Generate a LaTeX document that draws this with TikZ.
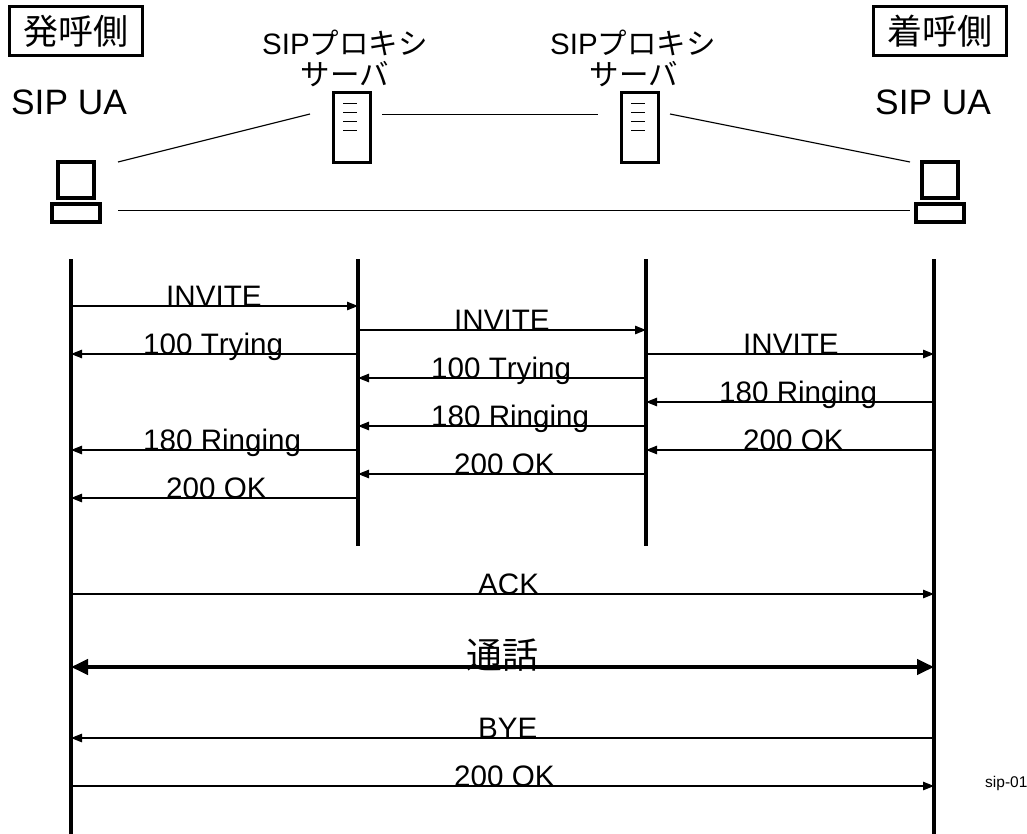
\documentclass[tikz,border=0pt]{standalone}
\usepackage{fontspec}
\setmainfont[Kerning=Off]{Liberation Sans}
\newfontfamily\cjk{Noto Sans CJK JP}
\usetikzlibrary{arrows.meta}
\tikzset{
  lifeline/.style={line width=4pt},
  msgline/.style={line width=1.1pt,-{Triangle[length=11pt,width=8.5pt]}},
  talkline/.style={line width=4pt,{Triangle[length=17pt,width=15pt]}-{Triangle[length=17pt,width=15pt]}},
  netline/.style={line width=1.1pt},
  msglabel/.style={anchor=base west,inner sep=0pt,font=\fontsize{29.6}{29.6}\selectfont},
  uatext/.style={anchor=base west,inner sep=0pt,font=\fontsize{35.3}{35.3}\selectfont},
  proxytext/.style={anchor=base,inner sep=0pt,font=\fontsize{29.5}{29.5}\selectfont},
  sidebox/.style={draw,line width=3.6pt,minimum width=133pt,minimum height=49pt,inner sep=0pt,font=\cjk\fontsize{35}{35}\selectfont},
  iconbox/.style={draw,line width=3.6pt,inner sep=0pt},
  rackline/.style={line width=1pt},
}
% \msg{name}{from}{to}{y}{text x}{text}
\newcommand{\msg}[6]{%
  \coordinate (#1s) at (#2 |- 0,#4);
  \coordinate (#1e) at (#3 |- 0,#4);
  \draw[msgline] (#1s) -- (#1e);
  \node[msglabel] (#1t) at (#5,#4) {#6};
}
\newcommand{\pcicon}[2]{%
  \node[iconbox,minimum width=36pt,minimum height=36pt] (#1m) at (#2,180) {};
  \node[iconbox,minimum width=48pt,minimum height=18pt] (#1k) at (#2,213) {};
}
\newcommand{\rack}[2]{%
  \node[iconbox,minimum width=37pt,minimum height=70pt] (#1) at (#2,127.5) {};
  \foreach \yy/\nn in {104/a,113/b,122/c,131/d}{
    \coordinate (#1\nn l) at (#2-9,\yy);
    \coordinate (#1\nn r) at (#2+5,\yy);
    \draw[rackline] (#1\nn l) -- (#1\nn r);
  }
}
\begin{document}
\begin{tikzpicture}[x=1pt,y=-1pt]
\useasboundingbox (0,0) rectangle (1027,834);
% headers
\node[sidebox] (caller) at (76,31) {発呼側};
\node[sidebox] (callee) at (940,31) {着呼側};
\node[uatext] (ua1) at (11,115) {SIP UA};
\node[uatext] (ua2) at (875,115) {SIP UA};
\node[proxytext] (p1a) at (345,55) {SIP{\cjk プロキシ}};
\node[proxytext] (p1b) at (345,86) {\cjk サーバ};
\node[proxytext] (p2a) at (633,55) {SIP{\cjk プロキシ}};
\node[proxytext] (p2b) at (634,86) {\cjk サーバ};
% icons
\pcicon{pca}{76}
\pcicon{pcb}{940}
\rack{srva}{352}
\rack{srvb}{640}
% network lines
\coordinate (n1s) at (118,162); \coordinate (n1e) at (310,114);
\coordinate (n2s) at (382,114.4); \coordinate (n2e) at (598,114.4);
\coordinate (n3s) at (670,114); \coordinate (n3e) at (910,162);
\coordinate (n4s) at (118,210.4); \coordinate (n4e) at (910,210.4);
\draw[netline] (n1s) -- (n1e);
\draw[netline] (n2s) -- (n2e);
\draw[netline] (n3s) -- (n3e);
\draw[netline] (n4s) -- (n4e);
% lifelines
\coordinate (A) at (71,259);  \coordinate (Ae) at (71,834);
\coordinate (B) at (358,259); \coordinate (Be) at (358,546);
\coordinate (C) at (646,259); \coordinate (Ce) at (646,546);
\coordinate (D) at (934,259); \coordinate (De) at (934,834);
\draw[lifeline] (A) -- (Ae);
\draw[lifeline] (B) -- (Be);
\draw[lifeline] (C) -- (Ce);
\draw[lifeline] (D) -- (De);
% messages
\msg{a}{A}{B}{306}{166}{INVITE}
\msg{b}{B}{C}{330}{454}{INVITE}
\msg{c}{B}{A}{354}{143}{100 Trying}
\msg{d}{C}{D}{354}{743}{INVITE}
\msg{e}{C}{B}{378}{431}{100 Trying}
\msg{f}{D}{C}{402}{719}{180 Ringing}
\msg{g}{C}{B}{426}{431}{180 Ringing}
\msg{h}{B}{A}{450}{143}{180 Ringing}
\msg{i}{D}{C}{450}{743}{200 OK}
\msg{j}{C}{B}{474}{454}{200 OK}
\msg{k}{B}{A}{498}{166}{200 OK}
\msg{l}{A}{D}{594}{478}{ACK}
\coordinate (ts) at (A |- 0,667);
\coordinate (te) at (D |- 0,667);
\draw[talkline] (ts) -- (te);
\node[anchor=base west,inner sep=0pt,font=\cjk\fontsize{36}{36}\selectfont] (talk) at (466,668) {通話};
\msg{m}{D}{A}{738}{478}{BYE}
\msg{n}{A}{D}{786}{454}{200 OK}
\node[anchor=base west,inner sep=0pt,font=\fontsize{15.5}{15.5}\selectfont] (tag) at (985,787) {sip-01};
\end{tikzpicture}
\end{document}
